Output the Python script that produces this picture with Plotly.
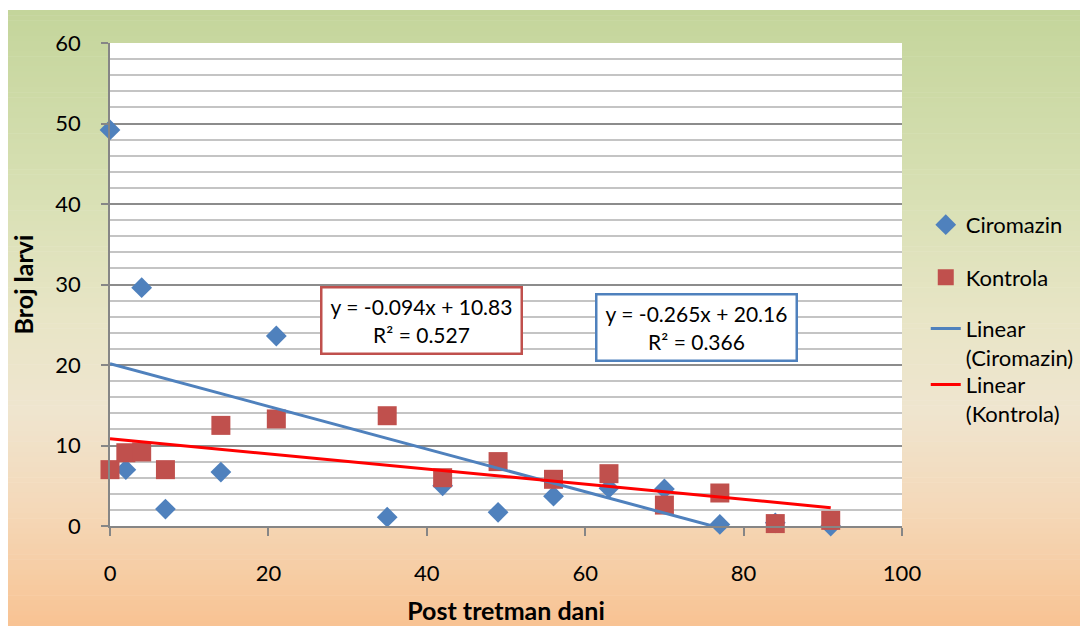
import numpy as np
import plotly.graph_objects as go

# data
days = [0, 2, 4, 7, 14, 21, 35, 42, 49, 56, 63, 70, 77, 84, 91]
ciromazin = [49.2, 7.0, 29.6, 2.1, 6.7, 23.6, 1.1, 5.0, 1.7, 3.7, 4.7, 4.6, 0.2, 0.4, 0.0]
kontrola = [7.0, 9.1, 9.2, 7.0, 12.5, 13.3, 13.7, 6.0, 8.0, 5.8, 6.5, 2.6, 4.1, 0.3, 0.7]

series_names = ["Ciromazin", "Kontrola"]
trend_slopes = [-0.265, -0.094]
trend_intercepts = [20.16, 10.83]
trend_r2 = [0.366, 0.527]

x_ticks = [0, 20, 40, 60, 80, 100]
y_ticks = [0, 10, 20, 30, 40, 50, 60]

FONT = "Lato"
BLUE = "#4f81bd"
RED = "#c0504d"

fig = go.Figure()

fig.add_trace(go.Scatter(
    x=days, y=ciromazin, mode="markers", name="Ciromazin", legendgroup="a",
    marker=dict(symbol="diamond", size=16, color=BLUE), cliponaxis=False,
))
fig.add_trace(go.Scatter(
    x=days, y=kontrola, mode="markers", name="Kontrola", legendgroup="b",
    marker=dict(symbol="square", size=19, color=RED), cliponaxis=False,
))

line_colors = [BLUE, "#ff0000"]
for i, name in enumerate(series_names):
    m, b = trend_slopes[i], trend_intercepts[i]
    x_end = min(max(days), -b / m)
    xs = np.array([0, x_end])
    fig.add_trace(go.Scatter(
        x=xs, y=m * xs + b, mode="lines", name=f"Linear<br>({name})",
        legend=f"legend{i + 2}", line=dict(color=line_colors[i], width=3),
    ))

# page has an 8px body margin, so figure px = page px - 8
W, H = 1088, 626
L, T = 102, 35
pw, ph = 792, 483
R, B = W - L - pw, H - T - ph
stops = [(0.0, "#c4d59b"), (0.3, "#d8e0b4"), (0.5, "#e8e5c6"),
         (0.65, "#efe5cf"), (0.8, "#f4d9ba"), (1.0, "#f8c393")]


def hex2rgb(h):
    return np.array([int(h[i:i + 2], 16) for i in (1, 3, 5)], float)


def color_at(t):
    for (t0, c0), (t1, c1) in zip(stops[:-1], stops[1:]):
        if t <= t1:
            f = (t - t0) / (t1 - t0)
            c = hex2rgb(c0) * (1 - f) + hex2rgb(c1) * f
            return "rgb(%d,%d,%d)" % tuple(c.round())
    return stops[-1][1]


# background gradient in horizontal bands
top_px, bot_px = 2, 618
n_bands = 120
shapes = []
for k in range(n_bands):
    py0 = top_px + (bot_px - top_px) * k / n_bands
    py1 = top_px + (bot_px - top_px) * (k + 1) / n_bands + 0.6
    if k == n_bands - 1:
        py1 = H
    shapes.append(dict(
        type="rect", xref="paper", yref="paper", layer="below",
        x0=-L / pw, x1=(W - L) / pw,
        y0=(H - B - py1) / ph, y1=(H - B - py0) / ph,
        fillcolor=color_at((k + 0.5) / n_bands), line=dict(width=0),
    ))
shapes.append(dict(type="rect", xref="x", yref="y", layer="below",
                   x0=0, x1=100, y0=0, y1=60, fillcolor="white", line=dict(width=0)))

# equation boxes
eq_pos = [(74.05, 24.7), (39.3, 25.5)]
box_colors = [BLUE, RED]
annotations = []
for i in range(2):
    annotations.append(dict(
        x=eq_pos[i][0], y=eq_pos[i][1], xref="x", yref="y", showarrow=False,
        text=f"y = {trend_slopes[i]}x + {trend_intercepts[i]}<br>R² = {trend_r2[i]}",
        font=dict(family=FONT, size=21, color="black"),
        bgcolor="white", bordercolor=box_colors[i], borderwidth=2.5,
        borderpad=6, width=186, height=52, align="center",
    ))

leg_common = dict(xanchor="left", yanchor="top", bgcolor="rgba(0,0,0,0)",
                  valign="top", font=dict(family=FONT, size=22))

fig.update_layout(
    width=W, height=H,
    margin=dict(l=L, r=R, t=T, b=B, autoexpand=False),
    paper_bgcolor="white", plot_bgcolor="white",
    font=dict(family=FONT, size=22, color="black"),
    shapes=shapes, annotations=annotations,
    showlegend=True,
    legend=dict(x=1.030, y=0.667, tracegroupgap=21, **leg_common),
    legend2=dict(x=1.030, y=0.452, **leg_common),
    legend3=dict(x=1.030, y=0.336, **leg_common),
    xaxis=dict(
        range=[0, 100], tickvals=x_ticks, showgrid=False, zeroline=False,
        automargin=False,
        showline=True, linecolor="#868686", linewidth=1.5,
        ticks="outside", ticklen=8, tickcolor="#868686", tickwidth=1.5,
        ticklabelstandoff=19, tickfont=dict(family=FONT, size=22),
        title=dict(text="<b>Post tretman dani</b>", standoff=17,
                   font=dict(family=FONT, size=25)),
    ),
    yaxis=dict(
        range=[0, 60], tickvals=y_ticks, zeroline=False, automargin=False,
        showgrid=True, gridcolor="#8c8c8c", gridwidth=1.5,
        minor=dict(dtick=2, showgrid=True, gridcolor="#c4c4c4", gridwidth=1.5),
        showline=True, linecolor="#868686", linewidth=1.5,
        ticks="outside", ticklen=7, tickcolor="#868686", tickwidth=1.5,
        ticklabelstandoff=16, tickfont=dict(family=FONT, size=22),
        title=dict(text="<b>Broj larvi</b>", standoff=16,
                   font=dict(family=FONT, size=25)),
    ),
)

fig.write_html("out.html")
